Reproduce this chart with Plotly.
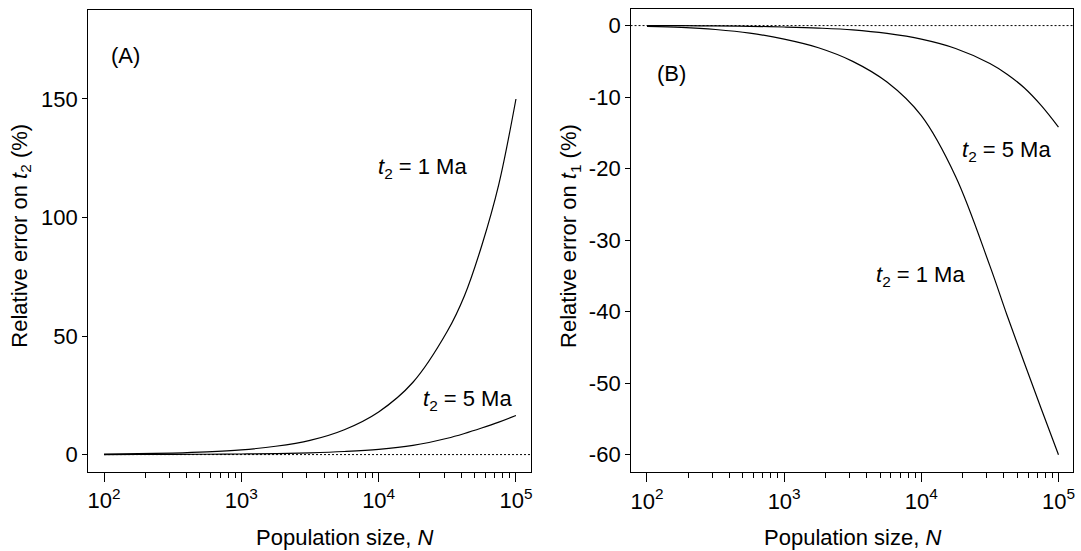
import plotly.graph_objects as go

# Population sizes N at which the relative errors were evaluated
pop_size = [100, 178, 316, 562, 1000, 1778, 3162, 5623, 10000, 17783,
            31623, 42170, 56234, 74989, 100000]

# (A) relative error on t2 (%)
err_t2_1ma = [0.2, 0.37, 0.65, 1.15, 2.0, 3.5, 6.0, 10.5, 18.0, 30.5,
              52.0, 67.0, 88.0, 114.0, 150.0]
err_t2_5ma = [0.02, 0.04, 0.07, 0.13, 0.25, 0.43, 0.75, 1.3, 2.2, 3.9,
              6.9, 8.9, 11.2, 13.7, 16.5]

# (B) relative error on t1 (%)
err_t1_1ma = [-0.1, -0.25, -0.55, -1.05, -1.9, -3.1, -5.0, -7.9, -12.6, -21.1,
              -33.6, -40.5, -47.1, -53.6, -60.0]
err_t1_5ma = [0.0, -0.02, -0.05, -0.1, -0.2, -0.35, -0.6, -1.1, -1.9, -3.2,
              -5.3, -6.8, -8.7, -11.2, -14.2]

x_major = [100, 1000, 10000, 100000]
x_major_text = ["10<sup>2</sup>", "10<sup>3</sup>", "10<sup>4</sup>", "10<sup>5</sup>"]
x_minor = [m * d for d in (100, 1000, 10000) for m in range(2, 10)]

y_ticks_a = [0, 50, 100, 150]
y_ticks_b = [0, -10, -20, -30, -40, -50, -60]

X_RANGE = [1.88, 5.106]
FONT = "Liberation Sans, Arial, sans-serif"
W, H = 1081, 551

fig = go.Figure()

curve = dict(mode="lines", line=dict(color="black", width=1.2, shape="spline"),
             showlegend=False, hoverinfo="skip")

fig.add_trace(go.Scatter(x=pop_size, y=err_t2_1ma, xaxis="x", yaxis="y", **curve))
fig.add_trace(go.Scatter(x=pop_size, y=err_t2_5ma, xaxis="x", yaxis="y", **curve))
fig.add_trace(go.Scatter(x=pop_size, y=err_t1_1ma, xaxis="x2", yaxis="y2", **curve))
fig.add_trace(go.Scatter(x=pop_size, y=err_t1_5ma, xaxis="x2", yaxis="y2", **curve))

# zero reference lines (dotted)
dotted = dict(color="black", width=1, dash="2px,2px")
fig.add_trace(go.Scatter(x=[pop_size[0], 10 ** X_RANGE[1]], y=[0, 0], xaxis="x", yaxis="y",
                         mode="lines", line=dotted, showlegend=False, hoverinfo="skip"))
fig.add_shape(type="line", xref="x2 domain", yref="y2", x0=0, x1=1, y0=0, y1=0,
              line=dotted)

axis_common = dict(showline=True, linecolor="black", linewidth=1, mirror=True,
                   showgrid=False, zeroline=False, ticks="outside", tickcolor="black",
                   tickwidth=1, tickfont=dict(family=FONT, size=22, color="black"))

xaxis_common = dict(type="log", range=X_RANGE, tickmode="array", tickvals=x_major,
                    ticktext=x_major_text, ticklen=9,
                    minor=dict(tickmode="array", tickvals=x_minor, ticks="outside",
                               ticklen=5, tickcolor="black", tickwidth=1, showgrid=False),
                    **axis_common)

fig.update_layout(
    width=W, height=H,
    margin=dict(l=0, r=0, t=0, b=0),
    paper_bgcolor="white", plot_bgcolor="white",
    font=dict(family=FONT, size=22, color="black"),
    xaxis=dict(domain=[87.7 / W, 531.5 / W], anchor="y", **xaxis_common),
    xaxis2=dict(domain=[631.7 / W, 1075 / W], anchor="y2", **xaxis_common),
    yaxis=dict(domain=[1 - 472 / H, 1 - 9.5 / H], anchor="x", range=[-7.35, 187.75],
               tickmode="array", tickvals=y_ticks_a, ticklen=4.5, **axis_common),
    yaxis2=dict(domain=[1 - 472.3 / H, 1 - 9.2 / H], anchor="x2", range=[-62.46, 2.29],
                tickmode="array", tickvals=y_ticks_b,
                ticktext=[str(v) for v in y_ticks_b], ticklen=4.5, **axis_common),
)

ann = dict(showarrow=False, xanchor="center", yanchor="middle",
           font=dict(family=FONT, size=22, color="black"))

# panel letters and curve labels
fig.add_annotation(x=2.16, y=168.3, xref="x", yref="y", text="(A)", **ann)
fig.add_annotation(x=2.176, y=-6.63, xref="x2", yref="y2", text="(B)", **ann)
fig.add_annotation(x=4.318, y=120.7, xref="x", yref="y",
                   text="<i>t</i><sub>2</sub> = 1 Ma", **ann)
fig.add_annotation(x=4.645, y=23.2, xref="x", yref="y",
                   text="<i>t</i><sub>2</sub> = 5 Ma", **ann)
fig.add_annotation(x=4.623, y=-17.5, xref="x2", yref="y2",
                   text="<i>t</i><sub>2</sub> = 5 Ma", **ann)
fig.add_annotation(x=3.994, y=-35.0, xref="x2", yref="y2",
                   text="<i>t</i><sub>2</sub> = 1 Ma", **ann)

# axis titles
fig.add_annotation(x=20.7 / W, y=1 - 236 / H, xref="paper", yref="paper", textangle=-90,
                   text="Relative error on <i>t</i><sub>2</sub> (%)", **ann)
fig.add_annotation(x=571 / W, y=1 - 236 / H, xref="paper", yref="paper", textangle=-90,
                   text="Relative error on <i>t</i><sub>1</sub> (%)", **ann)
fig.add_annotation(x=345 / W, y=1 - 537 / H, xref="paper", yref="paper",
                   text="Population size, <i>N</i>", **ann)
fig.add_annotation(x=854 / W, y=1 - 537 / H, xref="paper", yref="paper",
                   text="Population size, <i>N</i>", **ann)

fig.write_html("out.html")
